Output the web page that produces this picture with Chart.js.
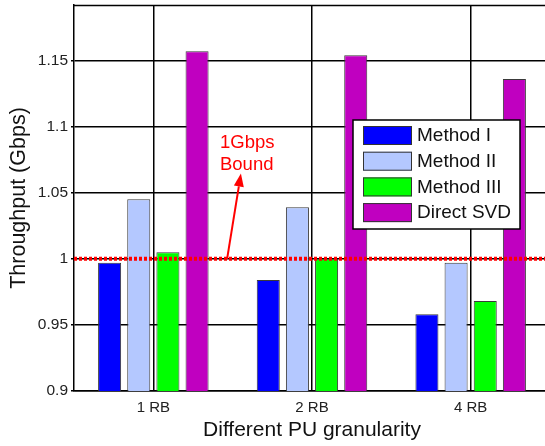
<!DOCTYPE html>
<html>
<head>
<meta charset="utf-8">
<script src="https://cdn.jsdelivr.net/npm/chart.js@4.4.1/dist/chart.umd.min.js"></script>
<style>
  html, body { margin: 0; padding: 0; background: #fff; overflow: hidden; }
  #wrap { width: 550px; height: 446px; }
</style>
</head>
<body>
<div id="wrap"><canvas id="chart" width="550" height="446"></canvas></div>
<script>
// Data
const categories = ['1 RB', '2 RB', '4 RB'];
const methodI = [0.997, 0.984, 0.958];
const methodII = [1.045, 1.039, 0.997];
const methodIII = [1.005, 1.000, 0.968];
const directSVD = [1.157, 1.154, 1.136];
const yTicks = [0.9, 0.95, 1, 1.05, 1.1, 1.15];
const boundValue = 1;

const seriesNames = ['Method I', 'Method II', 'Method III', 'Direct SVD'];
const seriesColors = ['#0000FF', '#B4C8FF', '#00FF00', '#C000C0'];

const FONT = "'Liberation Sans', Arial, sans-serif";

// draws the top border, the red 1Gbps line with its note, and the boxed legend
const extras = {
    id: 'extras',
    afterDatasetsDraw(chart) {
        const { ctx, chartArea, scales } = chart;
        const x = scales.x, y = scales.y;

        ctx.save();
        // top frame line
        ctx.strokeStyle = '#000';
        ctx.lineWidth = 1.5;
        ctx.beginPath();
        ctx.moveTo(chartArea.left, chartArea.top + 0.5);
        ctx.lineTo(chartArea.right, chartArea.top + 0.5);
        ctx.stroke();

        // dotted bound line
        const yb = y.getPixelForValue(boundValue);
        ctx.strokeStyle = '#FF0000';
        ctx.lineWidth = 4;
        ctx.setLineDash([3, 2]);
        ctx.beginPath();
        ctx.moveTo(chartArea.left, yb);
        ctx.lineTo(chartArea.right, yb);
        ctx.stroke();
        ctx.setLineDash([]);

        // arrow and label
        const step = x.getPixelForValue(1) - x.getPixelForValue(0);
        const x0 = x.getPixelForValue(0);
        const ax = x0 + 0.465 * step, ay = yb;
        const tx = x0 + 0.552 * step, ty = y.getPixelForValue(1.0645);
        ctx.strokeStyle = '#FF0000';
        ctx.fillStyle = '#FF0000';
        ctx.lineWidth = 2;
        const ang = Math.atan2(ty - ay, tx - ax);
        const headLen = 13, headW = 5;
        const bx = tx - headLen * Math.cos(ang), by = ty - headLen * Math.sin(ang);
        ctx.beginPath();
        ctx.moveTo(ax, ay);
        ctx.lineTo(bx, by);
        ctx.stroke();
        ctx.beginPath();
        ctx.moveTo(tx, ty);
        ctx.lineTo(bx + headW * Math.sin(ang), by - headW * Math.cos(ang));
        ctx.lineTo(bx - headW * Math.sin(ang), by + headW * Math.cos(ang));
        ctx.closePath();
        ctx.fill();

        ctx.font = '18.5px ' + FONT;
        ctx.textAlign = 'left';
        ctx.textBaseline = 'alphabetic';
        const lx = x0 + 0.42 * step;
        ctx.fillText('1Gbps', lx, y.getPixelForValue(1.0835));
        ctx.fillText('Bound', lx, y.getPixelForValue(1.0675));

        // legend box
        const boxL = chartArea.right - 197, boxT = 120, boxW = 167, boxH = 109;
        ctx.fillStyle = '#fff';
        ctx.fillRect(boxL, boxT, boxW, boxH);
        ctx.strokeStyle = '#000';
        ctx.lineWidth = 1.5;
        ctx.strokeRect(boxL, boxT, boxW, boxH);
        ctx.font = '19px ' + FONT;
        ctx.textBaseline = 'middle';
        chart.data.datasets.forEach((ds, i) => {
            const ry = boxT + 6 + i * 25.7;
            ctx.fillStyle = ds.backgroundColor;
            ctx.fillRect(boxL + 10, ry, 49, 19);
            ctx.strokeStyle = '#333';
            ctx.lineWidth = 1;
            ctx.strokeRect(boxL + 10.5, ry + 0.5, 48, 18);
            ctx.fillStyle = '#111';
            ctx.fillText(ds.label, boxL + 64, ry + 10);
        });
        ctx.restore();
    }
};

const datasets = [methodI, methodII, methodIII, directSVD].map((vals, i) => ({
    label: seriesNames[i],
    data: vals,
    backgroundColor: seriesColors[i],
    borderColor: '#3a3a3a',
    borderWidth: 1,
    barPercentage: 0.79,
    categoryPercentage: 0.735
}));

new Chart(document.getElementById('chart'), {
    type: 'bar',
    data: { labels: categories, datasets: datasets },
    options: {
        responsive: false,
        animation: false,
        layout: { padding: { top: 5, right: 0, left: 0, bottom: 0 } },
        plugins: { legend: { display: false }, tooltip: { enabled: false } },
        scales: {
            x: {
                grid: { color: '#000', lineWidth: 1.5, offset: false, drawTicks: false },
                border: { color: '#000', width: 1.5 },
                ticks: { color: '#222', font: { family: FONT, size: 15 }, padding: 8 },
                title: {
                    display: true, text: 'Different PU granularity', color: '#111',
                    font: { family: FONT, size: 21 }, padding: { top: 0, bottom: 3 }
                },
                afterFit(scale) {
                    scale.height = 55;
                    scale.paddingLeft = 0;
                    scale.paddingRight = 0;
                }
            },
            y: {
                min: 0.9,
                max: 1.192,
                afterBuildTicks(scale) { scale.ticks = yTicks.map(v => ({ value: v })); },
                grid: { color: '#000', lineWidth: 1.5, tickLength: 3 },
                border: { color: '#000', width: 1.5 },
                ticks: {
                    color: '#222', font: { family: FONT, size: 15.5 }, padding: 3,
                    callback: v => String(v)
                },
                title: {
                    display: true, text: 'Throughput (Gbps)', color: '#111',
                    font: { family: FONT, size: 21.5 }, padding: { top: 6, bottom: 0 }
                },
                afterFit(scale) {
                    scale.width = 74;
                    scale.paddingTop = 0;
                    scale.paddingBottom = 0;
                }
            }
        }
    },
    plugins: [extras]
});
</script>
</body>
</html>
